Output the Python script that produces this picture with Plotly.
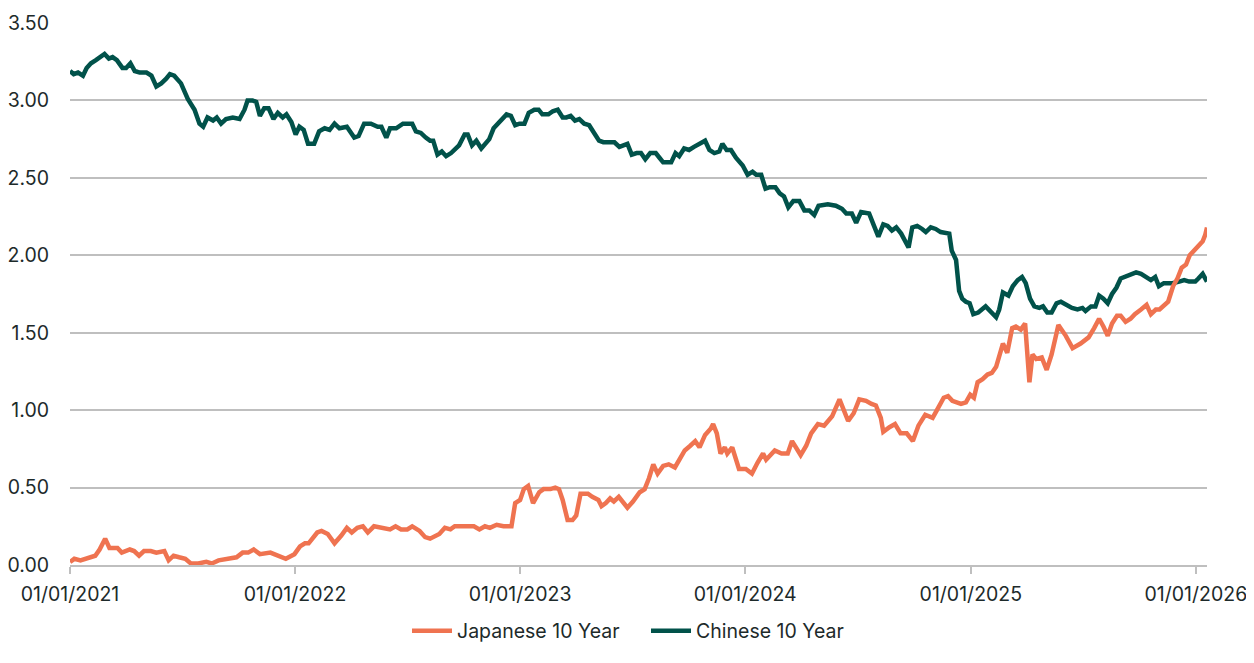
import pandas as pd
import plotly.graph_objects as go

START = "2021-01-01"

# Day offsets from START and yields (%) for the Chinese 10Y
CN_DAYS = [0, 6, 13, 21, 27, 34, 42, 49, 56, 63, 69, 76, 85, 91, 98, 105, 113, 124, 132, 140,
           148, 156, 162, 169, 180, 191, 202, 210, 216, 223, 232, 238, 245, 253, 264, 275, 283, 288,
           296, 302, 308, 315, 322, 330, 337, 345, 351, 359, 366, 372, 379, 386, 396, 404, 413, 421,
           429, 437, 449, 461, 468, 477, 488, 499, 505, 513, 519, 529, 540, 548, 555, 561,
           569, 577, 584, 589, 596, 603, 610, 618, 625, 631, 640, 645, 652, 659, 667, 674, 680, 687,
           696, 708, 715, 722, 729, 737, 744, 753, 760, 766, 776, 783, 791, 799, 805, 812, 819, 826,
           834, 842, 850, 858, 865, 875, 883, 891, 897, 904, 911, 919, 926, 933, 941, 950, 956, 962,
           967, 975, 982, 988, 996, 1004, 1012, 1020, 1030, 1037, 1045, 1053, 1058, 1065, 1072, 1080,
           1091, 1099, 1107, 1113, 1121, 1128, 1135, 1144, 1151, 1158, 1165, 1173, 1183, 1191, 1199,
           1207, 1214, 1229, 1242, 1252, 1259, 1268, 1275, 1283, 1291, 1296, 1303, 1311, 1319, 1326,
           1333, 1340, 1348, 1355, 1360, 1366, 1374, 1382, 1388, 1396, 1404, 1412, 1421, 1426, 1430,
           1437, 1442, 1447, 1453, 1459, 1465, 1473, 1485, 1493, 1502, 1507, 1513, 1522, 1529, 1537,
           1544, 1550, 1557, 1564, 1572, 1578, 1585, 1592, 1600, 1607, 1615, 1625, 1634, 1642, 1647,
           1656, 1663, 1669, 1676, 1683, 1690, 1697, 1704, 1711, 1720, 1729, 1737, 1745, 1753, 1760,
           1766, 1774, 1788, 1799, 1807, 1815, 1825, 1830, 1837, 1844]
CN_YIELD = [3.19, 3.17, 3.18, 3.16, 3.21, 3.24, 3.26, 3.28, 3.30, 3.27, 3.28, 3.26, 3.21, 3.21, 3.24,
            3.19, 3.18, 3.18, 3.16, 3.09, 3.11, 3.14, 3.17, 3.16, 3.11, 3.01, 2.94, 2.85, 2.83, 2.89,
            2.87, 2.89, 2.85, 2.88, 2.89, 2.88, 2.94, 3.00, 3.00, 2.99, 2.90, 2.95, 2.95, 2.88, 2.92,
            2.89, 2.91, 2.86, 2.78, 2.83, 2.81, 2.72, 2.72, 2.80, 2.82, 2.81, 2.85, 2.82, 2.83, 2.76,
            2.77, 2.85, 2.85, 2.83, 2.83, 2.76, 2.82, 2.82, 2.85, 2.85, 2.85, 2.80,
            2.79, 2.76, 2.74, 2.74, 2.65, 2.67, 2.64, 2.66, 2.69, 2.71, 2.78, 2.78, 2.71, 2.74, 2.69,
            2.72, 2.75, 2.82, 2.86, 2.91, 2.90, 2.84, 2.85, 2.85, 2.92, 2.94, 2.94, 2.91, 2.91, 2.93,
            2.94, 2.89, 2.89, 2.90, 2.87, 2.88, 2.85, 2.84, 2.79, 2.74, 2.73, 2.73, 2.73, 2.70, 2.71,
            2.72, 2.65, 2.66, 2.66, 2.62, 2.66, 2.66, 2.63, 2.60, 2.60, 2.60, 2.66, 2.64, 2.69, 2.68,
            2.70, 2.72, 2.74, 2.68, 2.66, 2.67, 2.72, 2.68, 2.68, 2.63, 2.58, 2.52, 2.54, 2.52, 2.52,
            2.43, 2.44, 2.44, 2.40, 2.38, 2.31, 2.35, 2.35, 2.29, 2.29, 2.26, 2.32, 2.33, 2.32, 2.30,
            2.27, 2.27, 2.21, 2.28, 2.27, 2.27, 2.20, 2.12, 2.20, 2.19, 2.16, 2.18, 2.14, 2.08, 2.05,
            2.18, 2.19, 2.17, 2.15, 2.18, 2.17, 2.15, 2.14, 2.14, 2.03, 1.97, 1.77, 1.72, 1.70, 1.69,
            1.62, 1.63, 1.67, 1.64, 1.60, 1.65, 1.76, 1.74, 1.80, 1.84, 1.86, 1.82, 1.72, 1.67, 1.66,
            1.67, 1.63, 1.63, 1.69, 1.70, 1.68, 1.66, 1.65, 1.66, 1.64, 1.67, 1.67, 1.74, 1.72, 1.69,
            1.75, 1.79, 1.85, 1.86, 1.88, 1.89, 1.88, 1.86, 1.84, 1.86, 1.80, 1.82, 1.82, 1.83, 1.84,
            1.83, 1.83, 1.85, 1.88, 1.83]

# Day offsets from START and yields (%) for the Japanese 10Y
JP_DAYS = [0, 7, 17, 30, 41, 48, 57, 64, 77, 84, 97, 104, 112, 120, 131, 140, 153, 160, 168, 177,
           187, 196, 208, 221, 230, 241, 252, 270, 280, 289, 298, 308, 325, 336, 350, 364, 373, 381,
           387, 401, 408, 418, 429, 440, 449, 457, 466, 475, 483, 493, 506, 519, 528, 537, 547, 555,
           567, 576, 584, 592, 599, 608, 617, 624, 633, 644, 655, 664, 673, 681, 692, 703, 716, 722,
           730, 736, 743, 751, 761, 768, 779, 787, 793, 799, 807, 815, 821, 828, 840, 847, 857, 862,
           869, 876, 882, 890, 897, 904, 913, 924, 932, 939, 946, 953, 962, 971, 981, 988, 997, 1006,
           1014, 1021, 1030, 1039, 1043, 1049, 1055, 1062, 1066, 1074, 1085, 1096, 1106, 1115, 1124,
           1129, 1143, 1154, 1164, 1171, 1185, 1194, 1202, 1213, 1223, 1236, 1248, 1262, 1271, 1280,
           1291, 1300, 1307, 1315, 1319, 1329, 1338, 1347, 1357, 1367, 1376, 1387, 1399, 1406, 1417,
           1424, 1431, 1445, 1453, 1460, 1466, 1472, 1480, 1488, 1495, 1502, 1508, 1513, 1520, 1528,
           1534, 1542, 1549, 1556, 1561, 1567, 1576, 1584, 1592, 1603, 1615, 1626, 1639, 1652, 1661,
           1669, 1676, 1683, 1690, 1698, 1704, 1712, 1720, 1727, 1737, 1746, 1753, 1761, 1767, 1774,
           1781, 1789, 1796, 1803, 1810, 1816, 1825, 1831, 1837, 1841, 1844]
JP_YIELD = [0.02, 0.04, 0.03, 0.05, 0.06, 0.10, 0.17, 0.11, 0.11, 0.08, 0.10, 0.09, 0.06, 0.09, 0.09,
            0.08, 0.09, 0.03, 0.06, 0.05, 0.04, 0.01, 0.01, 0.02, 0.01, 0.03, 0.04, 0.05, 0.08, 0.08,
            0.10, 0.07, 0.08, 0.06, 0.04, 0.07, 0.12, 0.14, 0.14, 0.21, 0.22, 0.20, 0.14, 0.19, 0.24,
            0.21, 0.24, 0.25, 0.21, 0.25, 0.24, 0.23, 0.25, 0.23, 0.23, 0.25, 0.22, 0.18, 0.17, 0.19,
            0.20, 0.24, 0.23, 0.25, 0.25, 0.25, 0.25, 0.23, 0.25, 0.24, 0.26, 0.25, 0.25, 0.40, 0.42,
            0.49, 0.51, 0.40, 0.47, 0.49, 0.49, 0.50, 0.49, 0.42, 0.29, 0.29, 0.32, 0.46, 0.46, 0.44,
            0.42, 0.38, 0.40, 0.43, 0.41, 0.44, 0.41, 0.37, 0.41, 0.47, 0.49, 0.56, 0.65, 0.59, 0.64,
            0.65, 0.63, 0.68, 0.74, 0.77, 0.80, 0.76, 0.84, 0.88, 0.91, 0.85, 0.72, 0.76, 0.72, 0.76,
            0.62, 0.62, 0.59, 0.66, 0.72, 0.68, 0.74, 0.72, 0.72, 0.80, 0.71, 0.77, 0.85, 0.91, 0.90,
            0.96, 1.07, 0.93, 0.98, 1.07, 1.06, 1.04, 1.03, 0.95, 0.86, 0.89, 0.91, 0.85, 0.85, 0.80,
            0.90, 0.97, 0.95, 1.00, 1.08, 1.09, 1.06, 1.04, 1.05, 1.10, 1.08, 1.18, 1.20, 1.23, 1.24,
            1.28, 1.35, 1.43, 1.37, 1.53, 1.54, 1.52, 1.56, 1.18, 1.36, 1.33, 1.34, 1.26, 1.36, 1.55,
            1.48, 1.40, 1.43, 1.47, 1.53, 1.59, 1.54, 1.48, 1.56, 1.61, 1.61, 1.57, 1.59, 1.62, 1.65,
            1.68, 1.62, 1.65, 1.65, 1.68, 1.70, 1.80, 1.85, 1.92, 1.94, 2.00, 2.04, 2.06, 2.09, 2.13,
            2.18]

YEAR_TICKS = ["2021-01-01", "2022-01-01", "2023-01-01", "2024-01-01", "2025-01-01", "2026-01-01"]
Y_TICKS = [0, 0.5, 1.0, 1.5, 2.0, 2.5, 3.0, 3.5]

start = pd.Timestamp(START)
cn_dates = start + pd.to_timedelta(CN_DAYS, unit="D")
jp_dates = start + pd.to_timedelta(JP_DAYS, unit="D")

ORANGE = "#EF7350"
GREEN = "#01524A"
TEXT = "#1d2a2a"
GRID = "#bfbfbf"
FONT = "Inter"
FS = 19.5

fig = go.Figure()
fig.add_trace(go.Scatter(x=cn_dates, y=CN_YIELD, mode="lines", name="Chinese 10 Year",
                         line=dict(color=GREEN, width=4.5)))
fig.add_trace(go.Scatter(x=jp_dates, y=JP_YIELD, mode="lines", name="Japanese 10 Year",
                         line=dict(color=ORANGE, width=4.5)))

fig.update_layout(
    width=1246, height=655,
    margin=dict(l=62, r=47, t=14.5, b=98),
    paper_bgcolor="white", plot_bgcolor="white",
    font=dict(family=FONT, size=FS, color=TEXT),
    showlegend=True,
    legend=dict(orientation="h", x=(407 - 70) / 1137, xanchor="left", y=-0.1217, yanchor="middle",
                traceorder="reversed", font=dict(family=FONT, size=FS, color=TEXT),
                itemwidth=40, entrywidth=184, tracegroupgap=0),
    xaxis=dict(
        type="date", automargin=False,
        range=[start, start + pd.Timedelta(days=max(CN_DAYS[-1], JP_DAYS[-1]))],
        tickvals=YEAR_TICKS, tickformat="%d/%m/%Y",
        showgrid=False, zeroline=False,
        showline=True, linecolor=GRID, linewidth=1.5,
        ticks="outside", ticklen=7, tickcolor=GRID, tickwidth=1.5,
        ticklabelstandoff=4,
        tickfont=dict(family=FONT, size=FS, color=TEXT),
    ),
    yaxis=dict(
        automargin=False,
        range=[0, 3.5], tickvals=Y_TICKS, tickformat=".2f",
        showgrid=True, gridcolor=GRID, gridwidth=1.5,
        zeroline=False, showline=False, ticks="",
        ticklabelstandoff=20,
        tickfont=dict(family=FONT, size=FS, color=TEXT),
    ),
)

fig.write_html("out.html")
